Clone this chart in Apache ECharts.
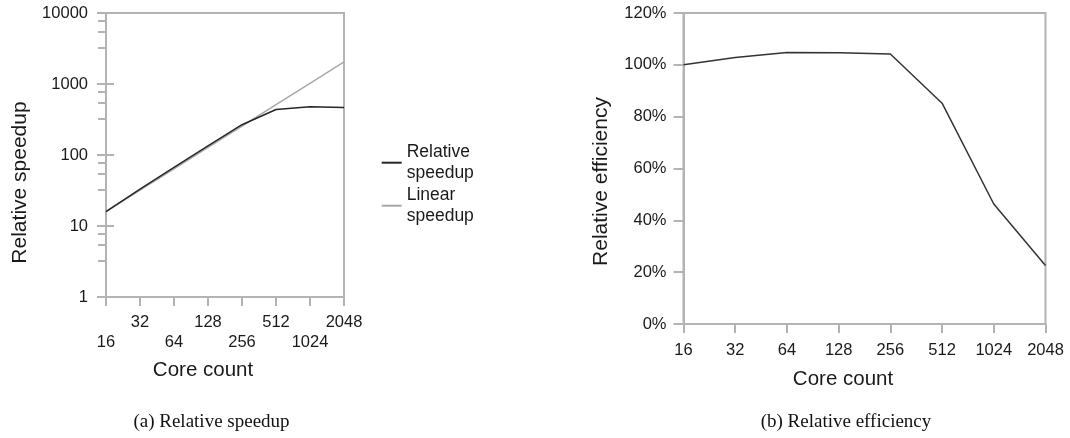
<!DOCTYPE html>
<html><head><meta charset="utf-8">
<script src="https://cdn.jsdelivr.net/npm/echarts@6/dist/echarts.min.js"></script>
<style>html,body{margin:0;padding:0;background:#fff}#c{width:1070px;height:438px}</style>
</head><body><div id="c"></div>
<script>
// ---- data ----
const coreCounts = ['16', '32', '64', '128', '256', '512', '1024', '2048'];
const relativeSpeedup = [16, 33, 67, 134, 267, 437, 478, 465];
const linearSpeedup = [16, 32, 64, 128, 256, 512, 1024, 2048];
const relativeEfficiency = [100, 102.8, 104.8, 104.7, 104.2, 85.2, 46.3, 22.6];
const speedupRange = [1, 10000];
const efficiencyRange = [0, 120];
const efficiencyStep = 20;
const captions = ['(a) Relative speedup', '(b) Relative efficiency'];

// ---- styles ----
const FONT = 'Liberation Sans';
const AXIS = '#b3b3b3';
const TXT = '#1a1a1a';
const axisLine = { show: true, lineStyle: { color: AXIS, width: 2 } };
const tickStyle = { color: AXIS, width: 2 };

const chart = echarts.init(document.getElementById('c'), null, { renderer: 'canvas' });

function legendFor(name, top) {
  return {
    data: [name], orient: 'vertical', left: 381.7, top: top, padding: 0,
    icon: 'rect', itemWidth: 20, itemHeight: 2, selectedMode: false,
    formatter: n => n.replace(' ', '\n'),
    textStyle: { fontFamily: FONT, fontSize: 17.5, lineHeight: 21, color: TXT, padding: [21, 0, 0, 0] }
  };
}

chart.setOption({
  animation: false,
  backgroundColor: '#fff',
  textStyle: { fontFamily: FONT },
  grid: [
    { left: 106, top: 13, width: 238, height: 284, show: true, borderColor: AXIS, borderWidth: 2, containLabel: false, outerBoundsMode: 'none' },
    { left: 683.5, top: 13, width: 362, height: 311, show: true, borderColor: AXIS, borderWidth: 2, containLabel: false, outerBoundsMode: 'none' }
  ],
  legend: [legendFor('Relative speedup', 131.2), legendFor('Linear speedup', 174.2)],
  xAxis: [
    {
      type: 'category', gridIndex: 0, data: coreCounts, boundaryGap: false,
      axisLine: axisLine,
      axisTick: { show: true, length: 9, interval: 0, lineStyle: tickStyle },
      axisLabel: { interval: 0, color: TXT, fontFamily: FONT, fontSize: 16.5, lineHeight: 19.5, margin: 16,
        formatter: (v, i) => (i % 2 === 0 ? '\n' + v : v) },
      splitLine: { show: false },
      name: 'Core count', nameLocation: 'middle', nameGap: 61.5,
      nameTextStyle: { color: TXT, fontFamily: FONT, fontSize: 20.5, lineHeight: 24, padding: [0, 44, 0, 0] }
    },
    {
      type: 'category', gridIndex: 1, data: coreCounts, boundaryGap: false,
      axisLine: axisLine,
      axisTick: { show: true, length: 9, interval: 0, lineStyle: tickStyle },
      axisLabel: { interval: 0, color: TXT, fontFamily: FONT, fontSize: 16.5, lineHeight: 19.5, margin: 17 },
      splitLine: { show: false },
      name: 'Core count', nameLocation: 'middle', nameGap: 43,
      nameTextStyle: { color: TXT, fontFamily: FONT, fontSize: 20.5, lineHeight: 24, padding: [0, 43, 0, 0] }
    }
  ],
  yAxis: [
    {
      type: 'log', logBase: 10, gridIndex: 0, min: speedupRange[0], max: speedupRange[1], position: 'left',
      axisLine: axisLine,
      axisTick: { show: true, length: 9, lineStyle: tickStyle },
      minorTick: { show: true, splitNumber: 4, length: 8, lineStyle: tickStyle },
      axisLabel: { color: TXT, fontFamily: FONT, fontSize: 16.5, margin: 18, formatter: v => String(Math.round(v)) },
      splitLine: { show: false },
      name: 'Relative speedup', nameLocation: 'middle', nameRotate: 90, nameGap: 73.5,
      nameTextStyle: { color: TXT, fontFamily: FONT, fontSize: 21, lineHeight: 24, padding: [0, 55, 0, 0] }
    },
    {
      type: 'log', logBase: 10, gridIndex: 0, min: speedupRange[0], max: speedupRange[1], position: 'left',
      axisLine: { show: false },
      axisTick: { show: true, inside: true, length: 8, lineStyle: tickStyle },
      axisLabel: { show: false },
      splitLine: { show: false }
    },
    {
      type: 'value', gridIndex: 1, min: efficiencyRange[0], max: efficiencyRange[1], interval: efficiencyStep,
      axisLine: axisLine,
      axisTick: { show: true, length: 10, lineStyle: tickStyle },
      axisLabel: { color: TXT, fontFamily: FONT, fontSize: 16.5, margin: 17, formatter: '{value}%' },
      splitLine: { show: false },
      name: 'Relative efficiency', nameLocation: 'middle', nameRotate: 90, nameGap: 70.7,
      nameTextStyle: { color: TXT, fontFamily: FONT, fontSize: 21, lineHeight: 24, padding: [0, 26, 0, 0] }
    }
  ],
  series: [
    {
      name: 'Linear speedup', type: 'line', xAxisIndex: 0, yAxisIndex: 0, data: linearSpeedup,
      showSymbol: false, symbol: 'none', lineStyle: { color: '#a8a8a8', width: 1.5 }, itemStyle: { color: '#a8a8a8' }, z: 2
    },
    {
      name: 'Relative speedup', type: 'line', xAxisIndex: 0, yAxisIndex: 0, data: relativeSpeedup,
      showSymbol: false, symbol: 'none', lineStyle: { color: '#262626', width: 1.5 }, itemStyle: { color: '#262626' }, z: 3
    },
    {
      name: 'Relative efficiency', type: 'line', xAxisIndex: 1, yAxisIndex: 2, data: relativeEfficiency,
      showSymbol: false, symbol: 'none', lineStyle: { color: '#333', width: 1.5 }, itemStyle: { color: '#333' }, z: 3
    }
  ],
  graphic: [
    { type: 'text', x: 211.5, y: 422, style: { text: captions[0], fontFamily: 'Liberation Serif', fontSize: 19, fill: '#111', align: 'center', verticalAlign: 'middle' } },
    { type: 'text', x: 846, y: 422, style: { text: captions[1], fontFamily: 'Liberation Serif', fontSize: 19, fill: '#111', align: 'center', verticalAlign: 'middle' } }
  ]
});
</script>
</body></html>
